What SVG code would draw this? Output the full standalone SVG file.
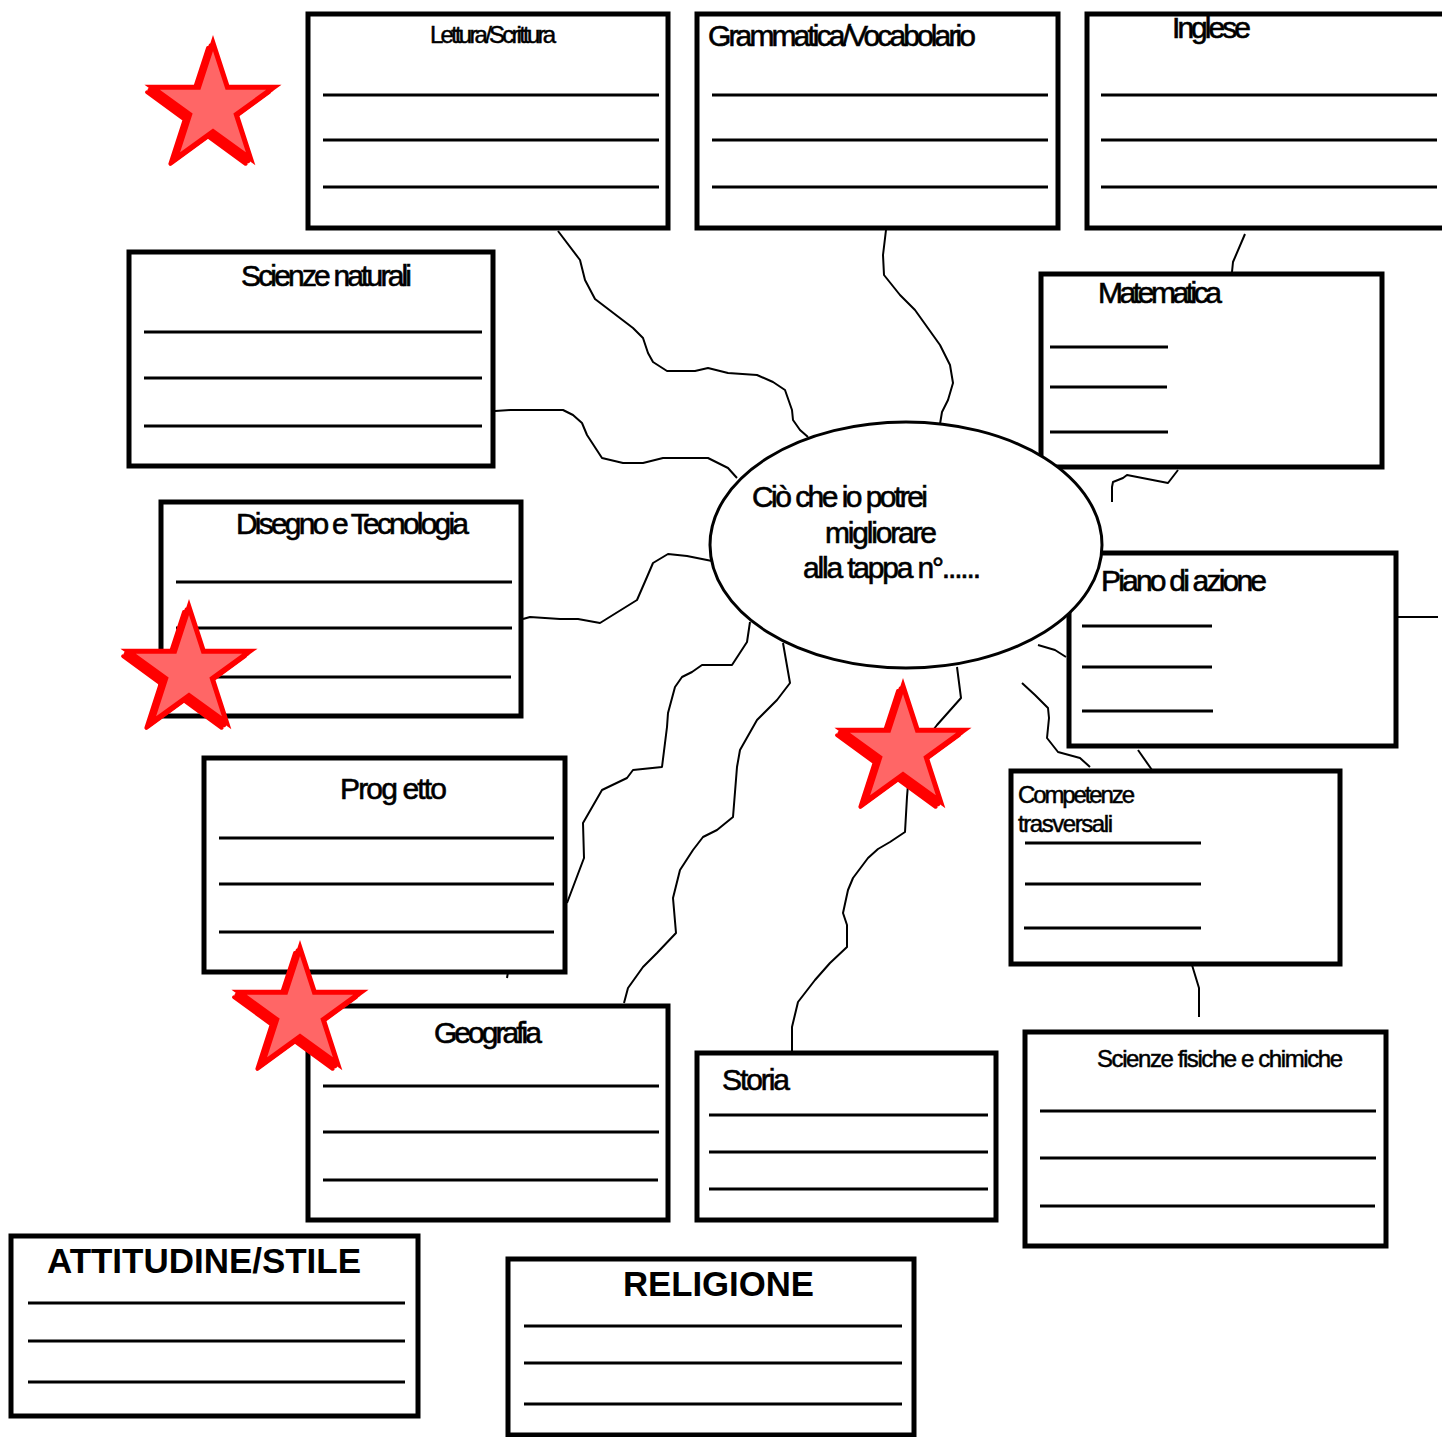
<svg xmlns="http://www.w3.org/2000/svg" width="1442" height="1437" viewBox="0 0 1442 1437">
<style>
.box{fill:#fff;stroke:#000;stroke-width:5}
.ln{stroke:#000;stroke-width:3}
.con{fill:none;stroke:#000;stroke-width:2;stroke-linejoin:round}
.lbl{font-family:"Liberation Sans",Arial,sans-serif;fill:#000;font-size:30px;stroke:#000;stroke-width:0.6}
.sm{font-size:24px;stroke-width:0.5}
.bd{font-weight:bold;font-size:34.5px;stroke:none}
.shadow{fill:#f00;stroke:#f00;stroke-width:4;stroke-linejoin:round}
.face{fill:#ff6666;stroke:#f00;stroke-width:5;stroke-linejoin:miter}
</style>
<defs>
<path id="star" d="M0,-64 L14.4,-19.82 L60.87,-19.78 L23.3,7.57 L37.62,51.78 L0,24.5 L-37.62,51.78 L-23.3,7.57 L-60.87,-19.78 L-14.4,-19.82 Z"/>
</defs>
<rect width="1442" height="1437" fill="#fff"/>
<g id="connectors">
<path class="con" d="M558,231 L580,260 L585,280 L595,299 L633,328 L643,338 L648,353 L653,362 L667,371 L695,371 L708,368 L728,373 L757,375 L773,382 L785,390 L792,410 L793,420 L800,430 L808,437"/>
<path class="con" d="M495,411 L510,410 L563,410 L573,415 L582,423 L587,435 L602,458 L623,463 L643,463 L663,458 L708,458 L728,468 L737,478"/>
<path class="con" d="M886,230 L883,255 L884,275 L900,295 L915,310 L940,345 L950,365 L953,383 L948,400 L942,412 L940,424"/>
<path class="con" d="M1245,234 L1233,262 L1232,272"/>
<path class="con" d="M1178,470 L1168,483 L1127,475 L1123,478 L1113,482 L1112,487 L1112,502"/>
<path class="con" d="M523,619 L530,617 L560,619 L578,619 L600,623 L637,600 L647,577 L653,563 L668,554 L687,556 L712,561"/>
<path class="con" d="M750,622 L747,642 L732,665 L702,665 L692,672 L682,677 L675,687 L668,713 L667,727 L662,767 L633,770 L627,778 L602,790 L583,823 L584,858 L567,903"/>
<path class="con" d="M783,643 L790,683 L777,700 L757,720 L740,750 L737,767 L733,817 L717,830 L703,837 L693,850 L680,870 L673,898 L676,933 L657,953 L643,967 L628,988 L624,1003"/>
<path class="con" d="M957,667 L961,698 L937,725 L910,760 L907,797 L905,832 L890,842 L878,849 L868,858 L853,878 L848,890 L843,913 L847,925 L847,947 L830,963 L815,980 L798,1002 L792,1027 L792,1052"/>
<path class="con" d="M1038,645 L1055,650 L1066,657"/>
<path class="con" d="M1022,683 L1035,695 L1048,708 L1049,718 L1047,738 L1058,752 L1080,758 L1090,767"/>
<path class="con" d="M1138,750 L1152,770"/>
<path class="con" d="M1192,965 L1199,988 L1199,1017"/>
<path class="con" d="M1398,617 L1438,617"/>
<path class="con" d="M508,972 L507,978"/>
</g>
<g id="lettura">
<rect class="box" x="308" y="14" width="360" height="214"/>
<line class="ln" x1="323" y1="95" x2="659" y2="95"/><line class="ln" x1="323" y1="140" x2="659" y2="140"/><line class="ln" x1="323" y1="187" x2="659" y2="187"/>
<text class="lbl sm" x="430" y="43" font-size="23" textLength="126" lengthAdjust="spacing">Lettura/Scrittura</text>
</g>
<g id="grammatica">
<rect class="box" x="697" y="14" width="361" height="214"/>
<line class="ln" x1="712" y1="95" x2="1048" y2="95"/><line class="ln" x1="712" y1="140" x2="1048" y2="140"/><line class="ln" x1="712" y1="187" x2="1048" y2="187"/>
<text class="lbl" x="708" y="46" textLength="268" lengthAdjust="spacing">Grammatica/Vocabolario</text>
</g>
<g id="inglese">
<rect class="box" x="1087" y="14" width="400" height="214"/>
<line class="ln" x1="1101" y1="95" x2="1437" y2="95"/><line class="ln" x1="1101" y1="140" x2="1437" y2="140"/><line class="ln" x1="1101" y1="187" x2="1437" y2="187"/>
<text class="lbl" x="1172" y="38" textLength="79" lengthAdjust="spacing">Inglese</text>
</g>
<g id="scienze-naturali">
<rect class="box" x="129" y="252" width="364" height="214"/>
<line class="ln" x1="144" y1="332" x2="482" y2="332"/><line class="ln" x1="144" y1="378" x2="482" y2="378"/><line class="ln" x1="144" y1="426" x2="482" y2="426"/>
<text class="lbl" x="241" y="286" textLength="171" lengthAdjust="spacing">Scienze naturali</text>
</g>
<g id="matematica">
<rect class="box" x="1041" y="274" width="341" height="193"/>
<line class="ln" x1="1050" y1="347" x2="1168" y2="347"/><line class="ln" x1="1050" y1="387" x2="1167" y2="387"/><line class="ln" x1="1050" y1="432" x2="1168" y2="432"/>
<text class="lbl" x="1098" y="303" textLength="124" lengthAdjust="spacing">Matematica</text>
</g>
<g id="disegno">
<rect class="box" x="161" y="502" width="360" height="214"/>
<line class="ln" x1="176" y1="582" x2="512" y2="582"/><line class="ln" x1="176" y1="628" x2="512" y2="628"/><line class="ln" x1="176" y1="677" x2="511" y2="677"/>
<text class="lbl" x="236" y="534" textLength="233" lengthAdjust="spacing">Disegno e Tecnologia</text>
</g>
<g id="piano">
<rect class="box" x="1069" y="553" width="327" height="193"/>
<line class="ln" x1="1082" y1="626" x2="1212" y2="626"/><line class="ln" x1="1082" y1="667" x2="1212" y2="667"/><line class="ln" x1="1082" y1="711" x2="1213" y2="711"/>
<text class="lbl" x="1101" y="591" textLength="166" lengthAdjust="spacing">Piano di azione</text>
</g>
<g id="progetto">
<rect class="box" x="204" y="758" width="361" height="214"/>
<line class="ln" x1="219" y1="838" x2="554" y2="838"/><line class="ln" x1="219" y1="884" x2="554" y2="884"/><line class="ln" x1="219" y1="932" x2="554" y2="932"/>
<text class="lbl" x="340" y="799" textLength="107" lengthAdjust="spacing">Prog etto</text>
</g>
<g id="competenze">
<rect class="box" x="1011" y="771" width="329" height="193"/>
<line class="ln" x1="1025" y1="843" x2="1201" y2="843"/><line class="ln" x1="1025" y1="884" x2="1201" y2="884"/><line class="ln" x1="1024" y1="928" x2="1201" y2="928"/>
<text class="lbl sm" x="1018" y="803" textLength="117" lengthAdjust="spacing">Competenze</text>
<text class="lbl sm" x="1018" y="832" textLength="95" lengthAdjust="spacing">trasversali</text>
</g>
<g id="geografia">
<rect class="box" x="308" y="1006" width="360" height="214"/>
<line class="ln" x1="323" y1="1086" x2="659" y2="1086"/><line class="ln" x1="323" y1="1132" x2="659" y2="1132"/><line class="ln" x1="323" y1="1180" x2="658" y2="1180"/>
<text class="lbl" x="434" y="1043" textLength="108" lengthAdjust="spacing">Geografia</text>
</g>
<g id="storia">
<rect class="box" x="697" y="1053" width="299" height="167"/>
<line class="ln" x1="709" y1="1115" x2="988" y2="1115"/><line class="ln" x1="709" y1="1152" x2="988" y2="1152"/><line class="ln" x1="709" y1="1189" x2="988" y2="1189"/>
<text class="lbl" x="722" y="1090" textLength="68" lengthAdjust="spacing">Storia</text>
</g>
<g id="scienze-fisiche">
<rect class="box" x="1025" y="1032" width="361" height="214"/>
<line class="ln" x1="1040" y1="1111" x2="1376" y2="1111"/><line class="ln" x1="1040" y1="1158" x2="1376" y2="1158"/><line class="ln" x1="1040" y1="1206" x2="1375" y2="1206"/>
<text class="lbl sm" x="1097" y="1067" textLength="246" lengthAdjust="spacing">Scienze fisiche e chimiche</text>
</g>
<g id="attitudine">
<rect class="box" x="11" y="1236" width="407" height="180"/>
<line class="ln" x1="28" y1="1303" x2="405" y2="1303"/><line class="ln" x1="28" y1="1341" x2="405" y2="1341"/><line class="ln" x1="28" y1="1382" x2="405" y2="1382"/>
<text class="lbl bd" x="47" y="1273" textLength="314" lengthAdjust="spacingAndGlyphs">ATTITUDINE/STILE</text>
</g>
<g id="religione">
<rect class="box" x="508" y="1259" width="406" height="176"/>
<line class="ln" x1="524" y1="1326" x2="902" y2="1326"/><line class="ln" x1="524" y1="1363" x2="902" y2="1363"/><line class="ln" x1="524" y1="1404" x2="902" y2="1404"/>
<text class="lbl bd" x="623" y="1296" textLength="191" lengthAdjust="spacingAndGlyphs">RELIGIONE</text>
</g>
<g id="centro">
<ellipse cx="906" cy="545" rx="196" ry="123" fill="#fff" stroke="#000" stroke-width="3"/>
<text class="lbl" x="752" y="507" font-size="32" textLength="176" lengthAdjust="spacing">Ciò che io potrei</text>
<text class="lbl" x="825" y="543" font-size="32" textLength="112" lengthAdjust="spacing">migliorare</text>
<text class="lbl" x="803" y="578" font-size="32" textLength="178" lengthAdjust="spacing">alla tappa n°......</text>
</g>
<g id="star1">
<use href="#star" class="shadow" x="208" y="112"/><use href="#star" class="shadow" x="210.5" y="109.5"/>
<use href="#star" class="face" x="213" y="107"/>
</g>
<g id="star2">
<use href="#star" class="shadow" x="184" y="676"/><use href="#star" class="shadow" x="186.5" y="673.5"/>
<use href="#star" class="face" x="189" y="671"/>
</g>
<g id="star3">
<use href="#star" class="shadow" x="898" y="755"/><use href="#star" class="shadow" x="900.5" y="752.5"/>
<use href="#star" class="face" x="903" y="750"/>
</g>
<g id="star4">
<use href="#star" class="shadow" x="295" y="1017"/><use href="#star" class="shadow" x="297.5" y="1014.5"/>
<use href="#star" class="face" x="300" y="1012"/>
</g>
</svg>
